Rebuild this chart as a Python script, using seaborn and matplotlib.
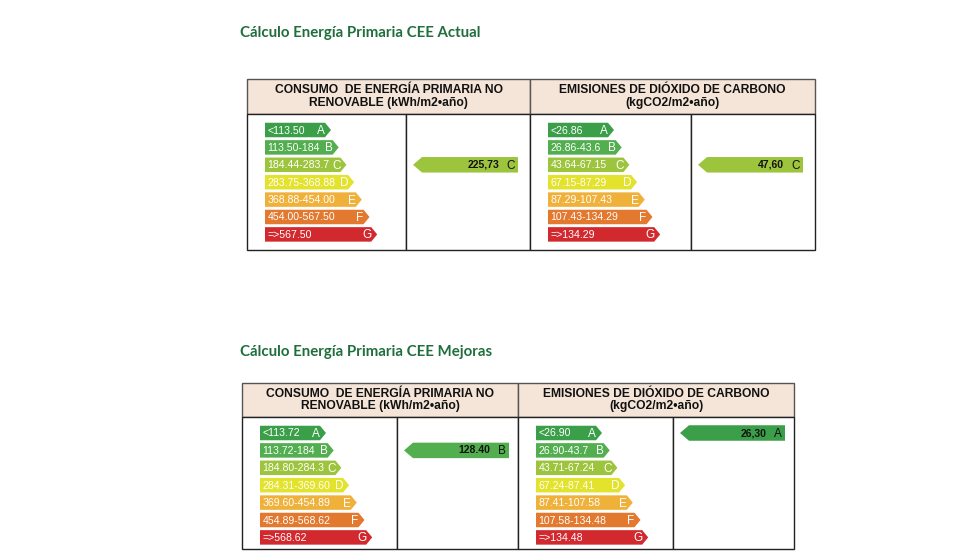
import matplotlib
matplotlib.use("Agg")
import matplotlib.pyplot as plt
from matplotlib.patches import Polygon, Rectangle
import seaborn as sns

# data
titles = ["Cálculo Energía Primaria CEE Actual", "Cálculo Energía Primaria CEE Mejoras"]
grades = ["A", "B", "C", "D", "E", "F", "G"]
grade_colors = ["#3b9e48", "#52ae4e", "#9dc43d", "#e3e22d", "#f0b13b", "#e3782f", "#d2292f"]

consumo_header = "CONSUMO  DE ENERGÍA PRIMARIA NO\nRENOVABLE (kWh/m2•año)"
emisiones_header = "EMISIONES DE DIÓXIDO DE CARBONO\n(kgCO2/m2•año)"

consumo_actual = ["<113.50", "113.50-184", "184.44-283.7", "283.75-368.88",
                  "368.88-454.00", "454.00-567.50", "=>567.50"]
emisiones_actual = ["<26.86", "26.86-43.6", "43.64-67.15", "67.15-87.29",
                    "87.29-107.43", "107.43-134.29", "=>134.29"]
consumo_mejoras = ["<113.72", "113.72-184", "184.80-284.3", "284.31-369.60",
                   "369.60-454.89", "454.89-568.62", "=>568.62"]
emisiones_mejoras = ["<26.90", "26.90-43.7", "43.71-67.24", "67.24-87.41",
                     "87.41-107.58", "107.58-134.48", "=>134.48"]

value_labels = [["225,73", "47,60"], ["128.40", "26,30"]]
value_grades = [["C", "C"], ["B", "A"]]

# layout (pixels): left, right, top, header bottom, bottom, column split, sub splits
tables = [
    dict(left=247, right=815, top=79, hbot=114, bot=250, split=530, subs=[406, 691], title_y=33),
    dict(left=242, right=794, top=383, hbot=417, bot=549, split=518, subs=[397, 673], title_y=352),
]

sns.set_theme(style="white")
plt.rcParams['font.family'] = ['Liberation Sans', 'DejaVu Sans']
palette = sns.color_palette(grade_colors)

fig = plt.figure(figsize=(9.8, 5.6), dpi=100)
ax = fig.add_axes([0, 0, 1, 1])
ax.set_xlim(0, 980)
ax.set_ylim(560, 0)
ax.axis("off")

edge = "#555555"


def scale_arrows(x0, y0, ranges):
    pitch = 17.4
    h = 14.5
    for i, (g, txt) in enumerate(zip(grades, ranges)):
        yc = y0 + i * pitch
        length = 66 + 7.7 * i
        tip = 6
        pts = [(x0, yc - h / 2), (x0 + length - tip, yc - h / 2), (x0 + length, yc),
               (x0 + length - tip, yc + h / 2), (x0, yc + h / 2)]
        ax.add_patch(Polygon(pts, closed=True, facecolor=palette[i], edgecolor="none"))
        ax.text(x0 + 2.5, yc + 0.5, txt, color="white", fontsize=7.6, va="center", ha="left")
        ax.text(x0 + length - tip, yc + 1, g, color="white", fontsize=8.5,
                va="center", ha="right")
    return pitch


def value_arrow(x0, y0, pitch, label, grade):
    i = grades.index(grade)
    yc = y0 + i * pitch
    h = 15.5
    length = 105
    tip = 9
    pts = [(x0, yc), (x0 + tip, yc - h / 2), (x0 + length, yc - h / 2),
           (x0 + length, yc + h / 2), (x0 + tip, yc + h / 2)]
    ax.add_patch(Polygon(pts, closed=True, facecolor=palette[i], edgecolor="none"))
    ax.text(x0 + length - 19, yc, label, color="#111111", fontsize=7.5, va="center",
            ha="right", fontweight="bold")
    ax.text(x0 + length - 3, yc + 1, grade, color="#111111", fontsize=8.5,
            va="center", ha="right")


for t, title, ranges_pair, vals, vgr in zip(
        tables, titles,
        [[consumo_actual, emisiones_actual], [consumo_mejoras, emisiones_mejoras]],
        value_labels, value_grades):
    ax.text(240, t["title_y"], title, family=["Lato", "DejaVu Sans"],
            fontsize=10.8, fontweight="bold", color="#1f6e3c", va="center", ha="left")
    cols = [(t["left"], t["split"]), (t["split"], t["right"])]
    headers = [consumo_header, emisiones_header]
    for k, ((c0, c1), hdr, rng, sub) in enumerate(zip(cols, headers, ranges_pair, t["subs"])):
        ax.add_patch(Rectangle((c0, t["top"]), c1 - c0, t["hbot"] - t["top"],
                               facecolor="#f5e5d8", edgecolor=edge, lw=1.0))
        ax.text((c0 + c1) / 2, (t["top"] + t["hbot"]) / 2, hdr, ha="center", va="center",
                fontsize=8.7, fontweight="bold", color="#111111", linespacing=1.1)
        ax.add_patch(Rectangle((c0, t["hbot"]), sub - c0, t["bot"] - t["hbot"],
                               facecolor="white", edgecolor="#222222", lw=1.0))
        ax.add_patch(Rectangle((sub, t["hbot"]), c1 - sub, t["bot"] - t["hbot"],
                               facecolor="white", edgecolor="#222222", lw=1.0))
        y0 = t["hbot"] + 16
        pitch = scale_arrows(c0 + 18, y0, rng)
        value_arrow(sub + 7, y0, pitch, vals[k], vgr[k])

fig.savefig("out.png", dpi=100)
